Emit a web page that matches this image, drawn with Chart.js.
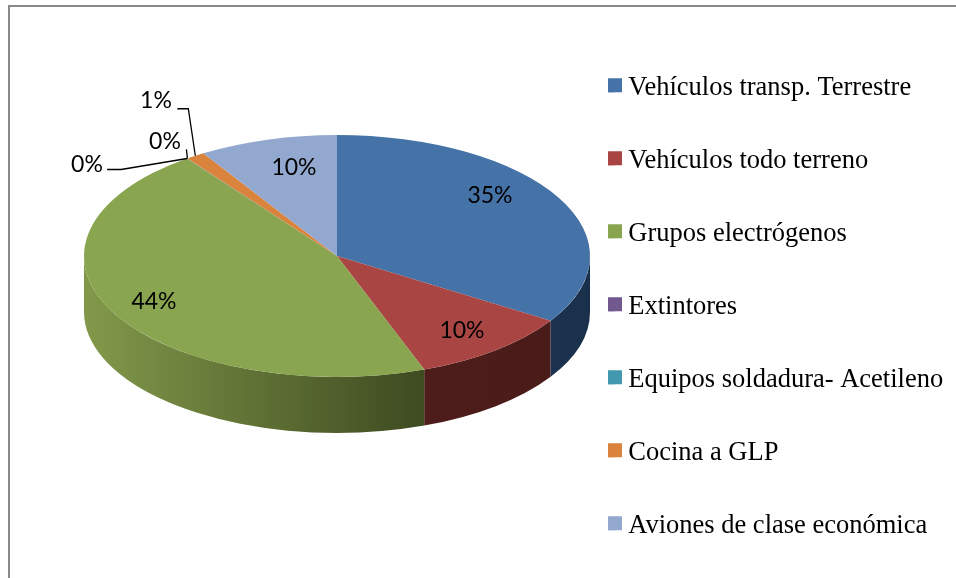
<!DOCTYPE html>
<html>
<head>
<meta charset="utf-8">
<title>Pie</title>
<script src="https://cdn.jsdelivr.net/npm/chart.js@4"></script>
<style>
  html, body { margin: 0; padding: 0; background: #fff; overflow: hidden; }
  #frame { position: absolute; left: 8px; top: 5px; right: 0; bottom: 0; border-left: 2px solid #898989; border-top: 2px solid #898989; }
  canvas { position: absolute; left: 0; top: 0; }
</style>
</head>
<body>
<div id="frame"></div>
<canvas id="c" width="956" height="578"></canvas>
<script>
// values, printed labels kept as they appear
const categories = ['Vehículos transp. Terrestre', 'Vehículos todo terreno', 'Grupos electrógenos', 'Extintores', 'Equipos soldadura- Acetileno', 'Cocina a GLP', 'Aviones de clase económica'];
const shares = [34.0, 10.4, 45.5, 0.02, 0.02, 1.2, 8.86];
const shareLabels = ['35%', '10%', '44%', '0%', '0%', '1%', '10%'];

const topColors = ['#4573a8', '#a94543', '#8aa54f', '#71588f', '#4198af', '#d9833c', '#93a8cf'];
const sideColors = [['#1b3350', '#1a2f4a'], ['#4e1d1b', '#491b19'], ['#82994a', '#3e4a20'], ['#3a2d4a', '#3a2d4a'], ['#1f4d5a', '#1f4d5a'], ['#7a4a20', '#7a4a20'], ['#4c5a70', '#4c5a70']];

// pie geometry on the page
const CX = 337, CY = 256, RX = 253, RY = 121, DEPTH = 56;
const LEGEND_X = 608, LEGEND_TOP = 75, ROW = 73, FONT_LEGEND = 26.5, FONT_LABEL = 23;

// label centres and leader offsets from the slice rim
const labelAt = [[490, 196], [462, 331], [154, 302], [87, 165], [165, 142], [156, 101], [294, 168]];
const leaders = { 3: [[-66, 11], [-80, 11]], 4: [[-1, -9]], 5: [[-7, -47], [-18, -47]] };

function rimPoint(angle) {
  return [CX + RX * Math.cos(angle), CY + RY * Math.sin(angle)];
}

const pie3d = {
  id: 'pie3d',
  // chart.js lays the arcs out, here they get squashed and extruded
  beforeDatasetsDraw(chart) {
    const ctx = chart.ctx;
    const arcs = chart.getDatasetMeta(0).data;
    arcs.forEach((arc, i) => {
      const TAU = Math.PI * 2;
      let a0 = arc.startAngle, a1 = arc.endAngle;
      // front half of the rim only
      const ranges = [[a0, a1], [a0 + TAU, a1 + TAU], [a0 - TAU, a1 - TAU]];
      ranges.forEach(([s, e]) => {
        const from = Math.max(s, 0), to = Math.min(e, Math.PI);
        if (to <= from) return;
        const xa = rimPoint(from)[0], xb = rimPoint(to)[0];
        const grad = ctx.createLinearGradient(Math.min(xa, xb), 0, Math.max(xa, xb), 0);
        grad.addColorStop(0, sideColors[i][0]);
        grad.addColorStop(1, sideColors[i][1]);
        ctx.beginPath();
        ctx.ellipse(CX, CY, RX, RY, 0, from, to);
        ctx.ellipse(CX, CY + DEPTH, RX, RY, 0, to, from, true);
        ctx.closePath();
        ctx.fillStyle = grad;
        ctx.fill();
      });
    });
    const first = arcs[0];
    ctx.save();
    ctx.translate(CX, CY);
    ctx.scale(1, RY / RX);
    ctx.translate(-first.x, -first.y);
  },
  afterDatasetsDraw(chart) {
    const ctx = chart.ctx;
    ctx.restore();
    const arcs = chart.getDatasetMeta(0).data;

    // leader lines
    ctx.strokeStyle = '#000';
    ctx.lineWidth = 1.3;
    Object.keys(leaders).forEach(k => {
      const arc = arcs[k];
      const p = rimPoint((arc.startAngle + arc.endAngle) / 2);
      ctx.beginPath();
      ctx.moveTo(p[0], p[1]);
      leaders[k].forEach(o => ctx.lineTo(p[0] + o[0], p[1] + o[1]));
      ctx.stroke();
    });

    // percent labels
    ctx.fillStyle = '#000';
    ctx.font = FONT_LABEL + 'px Lato';
    ctx.textAlign = 'center';
    ctx.textBaseline = 'middle';
    shareLabels.forEach((t, i) => ctx.fillText(t, labelAt[i][0], labelAt[i][1]));
  },
  // move the legend to where the reference has it
  afterLayout(chart) {
    const lg = chart.legend;
    const pad = lg.options.labels.padding;
    const dx = LEGEND_X - pad - lg.left, dy = LEGEND_TOP - pad - lg.top;
    lg.left += dx; lg.right += dx; lg.top += dy; lg.bottom += dy;
    lg.legendHitBoxes.forEach(b => { b.left += dx; b.top += dy; });
  },
  afterDraw(chart) {
    // legend swatches are wider than the built-in box leaves room for
    const ctx = chart.ctx;
    const lg = chart.legend;
    lg.legendItems.forEach((it, i) => {
      const b = lg.legendHitBoxes[i];
      ctx.fillStyle = it.fillStyle;
      ctx.fillRect(LEGEND_X, b.top + (b.height - 14) / 2 - 3, 14, 14);
    });
  }
};

new Chart(document.getElementById('c').getContext('2d'), {
  type: 'pie',
  data: {
    labels: categories,
    datasets: [{ data: shares, backgroundColor: topColors, borderWidth: 0, clip: false, radius: RX }]
  },
  options: {
    responsive: false,
    animation: false,
    plugins: {
      tooltip: { enabled: false },
      legend: {
        position: 'right',
        align: 'start',
        labels: {
          boxWidth: 7,
          boxHeight: 8,
          padding: ROW - FONT_LEGEND,
          color: '#000',
          font: { family: "'Liberation Serif'", size: FONT_LEGEND }
        }
      }
    }
  },
  plugins: [pie3d]
});
</script>
</body>
</html>
